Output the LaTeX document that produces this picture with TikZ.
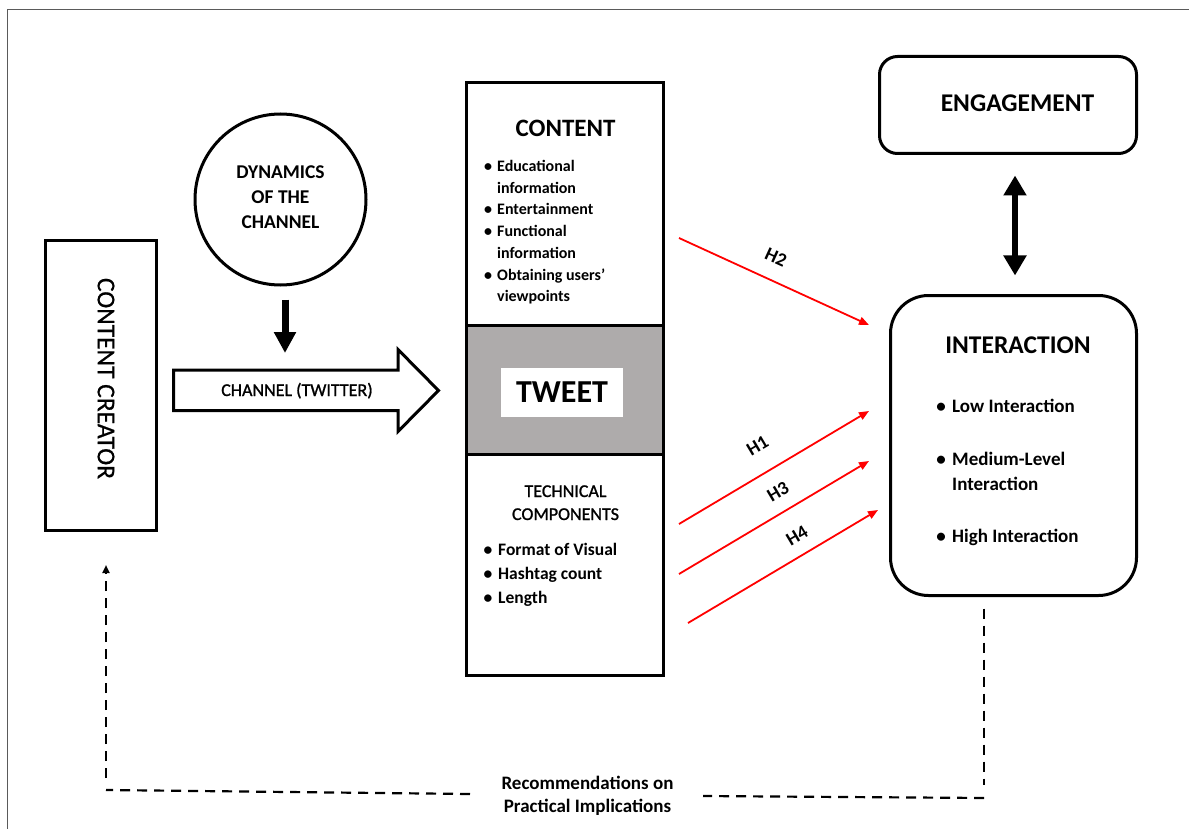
\documentclass[tikz,border=0pt]{standalone}
\usepackage{fontspec}
\setmainfont{Carlito}
\newfontfamily\semibf[FakeBold=1.2]{Carlito}
\newfontfamily\medf[FakeBold=0.6]{Carlito}
\usetikzlibrary{arrows.meta}
\newcommand\fsz[1]{\fontsize{#1pt}{#1pt}\selectfont}
\definecolor{tweetgray}{RGB}{174,171,171}
\definecolor{framegray}{RGB}{90,90,90}
\begin{document}
\begin{tikzpicture}[x=1pt,y=-1pt,
  box/.style={draw, line width=3pt, inner sep=0pt},
  lbl/.style={inner sep=0pt, anchor=base},
  lblw/.style={inner sep=0pt, anchor=base west},
  bul/.style={inner sep=0pt, anchor=base},
  cfont/.style={font=\bfseries\fsz{16}},
  tfont/.style={font=\bfseries\fsz{17.5}},
  ifont/.style={font=\bfseries\fsz{19}},
  redarr/.style={draw=red, line width=1.8pt, -{Triangle[length=10pt,width=8pt]}},
  dsh/.style={line width=2.2pt, dash pattern=on 10pt off 7pt},
  hlbl/.style={inner sep=0pt, font=\bfseries\fsz{19}},
  blkarr/.style={line width=7pt, -{Triangle[length=21pt,width=21pt]}},
]
\useasboundingbox (0,0) rectangle (1189,829);
\fill[white] (0,0) rectangle (1189,829);
\draw[framegray, line width=1pt] (7,829) -- (7,9.5) -- (1189,9.5);

% content creator
\node[box, minimum width=111pt, minimum height=290pt] (creator) at (101,385.5) {};
\node[inner sep=0pt, rotate=-90, font=\medf\fsz{25.5}] (creatorlbl) at (106,378.5) {CONTENT CREATOR};

% dynamics circle
\node[box, circle, minimum size=171pt] (circ) at (280.5,199.5) {};
\node[lbl, font=\bfseries\fsz{19.5}] (dyn1) at (280.5,179) {DYNAMICS};
\node[lbl, font=\bfseries\fsz{19.5}] (dyn2) at (280.5,204) {OF THE};
\node[lbl, font=\bfseries\fsz{19.5}] (dyn3) at (280.5,229) {CHANNEL};

% channel block arrow
\draw[line width=3pt, line join=miter] (173.5,370) -- (398,370) -- (398,349.5) -- (438.5,390.5)
  -- (398,431.5) -- (398,410.5) -- (173.5,410.5) -- cycle;
\node[lbl, font=\semibf\fsz{18}] (channel) at (297,396) {CHANNEL (TWITTER)};
\coordinate (dyntip) at (285,353);
\draw[blkarr] ([xshift=4.5pt,yshift=-13pt]circ.south) -- (dyntip);

% tweet column
\node[box, minimum width=196.5pt, minimum height=242.5pt] (content) at (564.75,203.75) {};
\node[box, minimum width=196.5pt, minimum height=221.5pt] (tech) at (564.75,564.75) {};
\node[box, fill=tweetgray, minimum width=196.5pt, minimum height=129pt] (tweet) at (564.75,389.5) {};
\node[fill=white, inner sep=0pt, minimum width=122pt, minimum height=49pt, font=\bfseries\fsz{32}] (tweetlbl) at (562,392.5) {TWEET};

\node[lbl, font=\bfseries\fsz{25}] (ctitle) at (565.5,137) {CONTENT};
\node[bul, cfont] (cb1) at (488,171.5) {\textbullet};
\node[lblw, cfont] (c1) at (497,171.5) {Educational};
\node[lblw, cfont] (c1b) at (497,193.5) {information};
\node[bul, cfont] (cb2) at (488,214.5) {\textbullet};
\node[lblw, cfont] (c2) at (497,214.5) {Entertainment};
\node[bul, cfont] (cb3) at (488,236.5) {\textbullet};
\node[lblw, cfont] (c3) at (497,236.5) {Functional};
\node[lblw, cfont] (c3b) at (497,258.5) {information};
\node[bul, cfont] (cb4) at (488,280.5) {\textbullet};
\node[lblw, cfont] (c4) at (497,280.5) {Obtaining users’};
\node[lblw, cfont] (c4b) at (497,301.5) {viewpoints};

\node[lbl, font=\semibf\fsz{18}] (ttitle1) at (565.5,497) {TECHNICAL};
\node[lbl, font=\semibf\fsz{18}] (ttitle2) at (565.5,520) {COMPONENTS};
\node[bul, tfont] (tb1) at (488,555) {\textbullet};
\node[lblw, tfont] (t1) at (498,555) {Format of Visual};
\node[bul, tfont] (tb2) at (488,579) {\textbullet};
\node[lblw, tfont] (t2) at (498,579) {Hashtag count};
\node[bul, tfont] (tb3) at (488,603) {\textbullet};
\node[lblw, tfont] (t3) at (498,603) {Length};

% engagement & interaction
\node[box, rounded corners=18pt, minimum width=257pt, minimum height=97pt] (eng) at (1008,105) {};
\node[lbl, font=\bfseries\fsz{25.5}] (englbl) at (1017.5,112) {ENGAGEMENT};
\node[box, rounded corners=38pt, minimum width=246pt, minimum height=300pt] (inter) at (1013.5,445.5) {};
\node[lbl, font=\bfseries\fsz{25.5}] (interlbl) at (1018,353) {INTERACTION};
\node[bul, ifont] (ib1) at (941,412) {\textbullet};
\node[lblw, ifont] (i1) at (952,412) {Low Interaction};
\node[bul, ifont] (ib2) at (941,465) {\textbullet};
\node[lblw, ifont] (i2) at (952,465) {Medium-Level};
\node[lblw, ifont] (i2b) at (952,490) {Interaction};
\node[bul, ifont] (ib3) at (941,542.5) {\textbullet};
\node[lblw, ifont] (i3) at (952,542.5) {High Interaction};

\draw[line width=6pt, {Triangle[length=20pt,width=22pt]}-{Triangle[length=20pt,width=22pt]}]
  ([xshift=7pt,yshift=-20.5pt]eng.south) -- ([xshift=1.5pt,yshift=18.5pt]inter.north);

% hypotheses
\coordinate (h2a) at (679,238); \coordinate (h2b) at (869,325);
\coordinate (h1a) at (679,524); \coordinate (h1b) at (869,411);
\coordinate (h3a) at (679,574); \coordinate (h3b) at (869,461);
\coordinate (h4a) at (688,623); \coordinate (h4b) at (878,510);
\draw[redarr] (h2a) -- (h2b);
\draw[redarr] (h1a) -- (h1b);
\draw[redarr] (h3a) -- (h3b);
\draw[redarr] (h4a) -- (h4b);
\node[hlbl, rotate=-24.6] (H2) at (776,257) {H2};
\node[hlbl, rotate=30.7] (H1) at (757.5,446) {H1};
\node[hlbl, rotate=30.7] (H3) at (778,492) {H3};
\node[hlbl, rotate=30.7] (H4) at (797,536) {H4};

% recommendations feedback
\node[lbl, ifont] (rec1) at (587.5,789) {Recommendations on};
\node[lbl, ifont] (rec2) at (587.5,812.5) {Practical Implications};
\coordinate (lv1) at (106,778);
\coordinate (lh1) at (106,790); \coordinate (lh2) at (470,794);
\coordinate (rh1) at (703,796); \coordinate (rh2) at (984,798);
\coordinate (rv2) at (984,785);
\draw[dsh, -{Triangle[length=8pt,width=7pt]}] (lv1) -- ([xshift=5pt,yshift=-33pt]creator.south);
\draw[dsh] (lh2) -- (lh1);
\draw[dsh] ([xshift=-29.5pt,yshift=-11.5pt]inter.south) -- (rv2);
\draw[dsh] (rh2) -- (rh1);
\end{tikzpicture}
\end{document}
